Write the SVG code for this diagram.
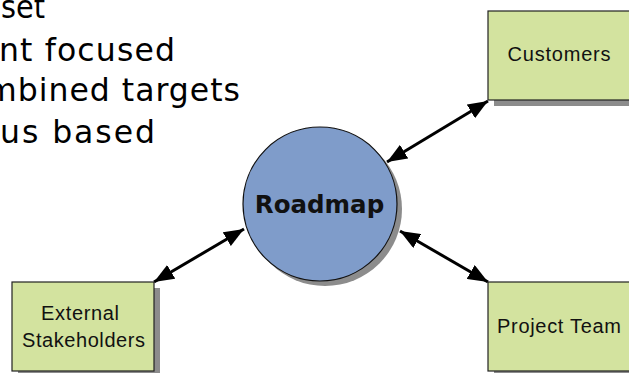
<svg xmlns="http://www.w3.org/2000/svg" width="629" height="373" viewBox="0 0 629 373">
  <defs>
    <marker id="ah" viewBox="0 0 20 16" refX="20" refY="8" markerWidth="20" markerHeight="16" markerUnits="userSpaceOnUse" orient="auto-start-reverse">
      <path d="M0,0 L20,8 L0,16 Z" fill="#000"/>
    </marker>
  </defs>
  <style>
    .bullet { font-family: "DejaVu Sans", Verdana, sans-serif; font-size: 31.5px; fill: #000; }
    .box { fill: #D3E39F; stroke: #222; stroke-width: 1.2; }
    .shadow { fill: #8C8C8C; }
    .lbl { font-family: "Liberation Sans", Arial, sans-serif; font-size: 20px; fill: #111; text-anchor: middle; }
    .conn { stroke: #000; stroke-width: 3; fill: none; marker-start: url(#ah); marker-end: url(#ah); }
  </style>
  <rect width="629" height="373" fill="#fff"/>
  <g id="bullets">
    <text class="bullet" x="1" y="18" textLength="44" lengthAdjust="spacingAndGlyphs">set</text>
    <text class="bullet" x="-1" y="61" textLength="176" lengthAdjust="spacing">nt focused</text>
    <text class="bullet" x="-14" y="101" textLength="254" lengthAdjust="spacing">mbined targets</text>
    <text class="bullet" x="0" y="143" textLength="155" lengthAdjust="spacing">us based</text>
  </g>
  <g id="connectors">
    <line class="conn" x1="387" y1="162" x2="488" y2="101"/>
    <line class="conn" x1="244" y1="229" x2="154" y2="282"/>
    <line class="conn" x1="400" y1="231" x2="488" y2="282"/>
  </g>
  <g id="roadmap">
    <circle class="shadow" cx="325" cy="209" r="77"/>
    <circle cx="320" cy="204" r="77" fill="#7F9CCA" stroke="#111" stroke-width="1.2"/>
    <text x="319.5" y="213" text-anchor="middle" font-family="DejaVu Sans, Verdana, sans-serif" font-weight="bold" font-size="24.5" fill="#111">Roadmap</text>
  </g>
  <g id="customers">
    <rect class="shadow" x="494" y="17" width="142" height="89"/>
    <rect class="box" x="488" y="11" width="142" height="89"/>
    <text class="lbl" x="559" y="61" textLength="103" lengthAdjust="spacing">Customers</text>
  </g>
  <g id="external">
    <rect class="shadow" x="18" y="288" width="142" height="89"/>
    <rect class="box" x="12" y="282" width="142" height="89"/>
    <text class="lbl" x="80" y="320" textLength="78" lengthAdjust="spacing">External</text>
    <text class="lbl" x="83.5" y="347" textLength="123" lengthAdjust="spacing">Stakeholders</text>
  </g>
  <g id="projectteam">
    <rect class="shadow" x="494" y="288" width="142" height="89"/>
    <rect class="box" x="488" y="282" width="142" height="89"/>
    <text class="lbl" x="559" y="333" textLength="124" lengthAdjust="spacing">Project Team</text>
  </g>
</svg>
